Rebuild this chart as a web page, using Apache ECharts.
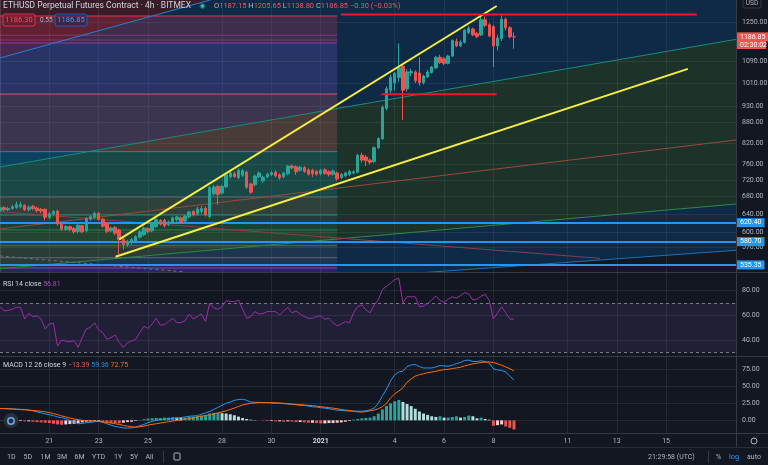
<!DOCTYPE html>
<html>
<head>
<meta charset="utf-8">
<script src="https://cdn.jsdelivr.net/npm/echarts@6/dist/echarts.min.js"></script>
<style>
html,body{margin:0;padding:0;background:#131722;overflow:hidden}
#chart{width:768px;height:465px}
</style>
</head>
<body>
<div id="chart"></div>
<script>
// ================= DATA =================
const open = [647,654,649,652,654,656,659,649,657,653, 650,650,632,640,646,617,606,612,608,602, 614,603,628,632,641,628,618,603,610,605, 585,575,579,581,590,595,608,603,612,625, 626,617,622,627,631,624,633,645,640,645, 652,634,686,704,688,703,728,736,726,732, 740,710,708,728,718,728,734,740,733,728, 736,756,754,745,752,746,745,742,736,746, 741,735,738,726,731,734,738,740,785,780, 772,768,806,832,925,985,1010,1030,1070,990, 1046,1050,1046,1012,1032,1048,1065,1105,1100,1082, 1110,1168,1150,1165,1205,1220,1200,1195,1260,1238, 1230,1150,1180,1262,1225,1187.15];
const close = [654,649,652,656,661,661,649,655,652,647, 646,632,640,645,618,607,612,606,601,615, 601,630,634,641,628,613,602,609,598,585, 575,581,585,591,601,609,602,619,627,618, 614,622,631,633,622,635,644,638,651,652, 638,701,703,685,704,733,738,729,745,744, 702,690,730,738,727,735,739,731,726,738, 756,751,741,753,742,735,736,735,745,737, 734,743,723,734,738,742,741,785,772,770, 766,806,832,928,990,1030,1045,1065,985,1050, 1052,1018,1012,1035,1050,1068,1105,1085,1082,1110, 1172,1150,1165,1215,1224,1195,1188,1260,1235,1190, 1150,1182,1262,1225,1187,1186.85];
const low = [643,645,646,649,651,652,646,645,648,643, 641,625,628,636,614,603,603,602,597,598, 598,600,625,629,625,610,598,600,594,555, 565,570,575,578,587,592,598,600,609,614, 610,613,619,623,618,621,630,634,636,640, 634,630,682,660,684,700,724,725,722,728, 698,686,704,725,712,724,730,727,721,724, 732,747,733,741,738,731,728,731,732,733, 729,731,718,722,727,730,734,737,765,756, 760,764,802,828,918,975,985,1015,888,980, 1035,1010,1000,1005,1028,1044,1060,1080,1075,1078, 1105,1145,1146,1160,1198,1190,1182,1190,1228,1185, 1068,1132,1170,1215,1180,1138.8];
const high = [658,657,656,660,668,668,662,659,660,656, 653,652,644,648,649,619,615,614,611,617, 616,633,637,645,644,631,621,612,613,608, 588,584,588,594,604,612,611,622,630,628, 629,625,634,636,634,638,647,648,656,658, 656,705,708,708,708,736,743,741,750,749, 744,714,734,742,731,739,743,745,737,741, 759,760,758,757,756,750,749,746,749,750, 745,747,742,738,741,746,745,789,792,786, 776,810,836,935,998,1040,1050,1160,1080,1060, 1062,1056,1105,1040,1058,1072,1110,1115,1106,1115, 1176,1180,1172,1220,1232,1226,1208,1275,1275,1245, 1238,1195,1280,1270,1232,1205.65];

const rsi = [67,63.5,64,65,66.5,66.5,57,61.5,59,59.5, 57,49,53,53.5,35,40,39,38.5,39.5,34, 42,49,50.3,54,48,46,40.5,42,44,38, 34,37.8,39,40.5,46,51,49.5,53,57.6,52, 52.5,54.9,57.6,54,54,55.5,61,57,59,61, 55,70,66,64.9,67,71.9,71.3,71,72.4,65, 57.6,58.9,63,61,61.5,63,63,63,60.3,63.5, 66.5,62,63.5,61,59,57.6,57.6,59,59.5,56.8, 57.6,54,51.4,53,54.9,53.8,62,67,68.5,64.3, 62,68.4,72.5,81,83.5,86,89,90,70.3,75, 75,75,67,67.5,69.5,72.5,75.5,72,70.5,73, 75,73.8,76,78.4,77.3,72.4,73,75.5,77,72, 57,62,67,62,57,56.81];

const macd = [17.5,17.3,17,16.8,16.5,16.2,16,15.2,14,12.5, 11,9.5,8.3,7,5,4,2.5,0,-2.5,-5, -4.5,-3.5,-3,-2,-1.5,-3,-5,-7,-9,-10, -11,-11.5,-11,-10,-8,-6,-3.5,-1.5,0,1, 1.5,2,3,3.5,4,5,6,6.5,7,9, 11,13,16,19,22,25,27,29.5,30.5,31, 29.5,27,26.5,26.5,26,26,25.5,25,25,24.5, 24,23.5,23,22,22,21,20,19.5,18.5,18, 17,16,15,14.5,14,13.5,13.5,13.5,13.5,14, 15.5,18,25,36,46,58,67,71,72.5,79, 81.5,82,79,77,77,77,78.5,80.5,80,79.5, 81,83.5,85,88,88.5,86.5,86.5,87.5,86.5,84, 76,74,73.5,71,65,59.36];
const signal = [17.5,17.3,17,16.7,16.3,15.8,15.4,15,14.5,14, 13.3,12.5,11.5,10,8.5,6.5,5,3.5,2,1, 0,-0.5,-1,-1.2,-1.5,-2,-3,-4,-5,-6, -7.5,-8.5,-9.5,-10,-9.5,-8.5,-7,-6,-5,-4, -3,-2,-1,0,0.5,1.5,2.5,3.5,5,6, 7,8,9.5,11,12.5,14,16,18,20.5,22.5, 24,25,25.5,26,26,26,26,25.8,25.5,25, 24.5,24,23.5,23,22.5,22,21.5,21,20,19.5, 18.5,18,17,16,15,14.5,13.5,12.5,12,13, 14,15,17,20,25,33,39,43,48,56, 61,65,67,68.5,70,71,72,73.5,74.5,75, 76,77,78,80,81.5,83,84,85,85.5,86, 85,83,81,78.5,76,72.75];
const hist = [0.5,0.3,0,-0.5,-1, -1,-1.5,-1.5,-2,-2.5,-3,-3.5,-4, -5,-6,-6.5,-6,-5.5,-5,-4, -3,-2,-1.5,-1,-1, -2,-3,-3.5,-4,-4.5,-3.5,-2.5, -2,-1,0.5,1.5, 2.5,3,3.5,3.5,4,4,4.5,4,3.5,4,5,5.5,6, 7,8,10,11,11,10.5,10,9,7.5,5.5, 3.5,2,1,0.5,0, -0.5,-1,-1,-1.5,-1.5,-2,-1.5,-2,-2.5, -2.5,-3,-3.5,-3.5,-4,-4.5,-4.5,-4,-4,-3.5,-3,-2, -1,1,2, 3,3.5,4,6,10,16,21,25,28,30, 27,24,21,17,13,10,8,6, 5,6,4,4,5,6,4,5,7,6,3,4,2,1, -8,-7,-6,-9,-11,-13.39];

const tickDays = ['2020-12-21','2020-12-23','2020-12-25','2020-12-28','2020-12-30','2021-01-01','2021-01-04','2021-01-06','2021-01-08','2021-01-11','2021-01-13','2021-01-15'];
const tickLabels = ['21','23','25','28','30','2021','4','6','8','11','13','15'];
const priceTicks = [1250,1090,1010,930,880,820,760,720,680,640,600,570];
const rsiTicks = [80,60,40];
const rsiBand = [70,30];
const macdTicks = [75,50,25,0];
const hLevels = [620.40, 580.70, 535.35];
const lastPrice = 1186.85;

// drawings (candle index, price)
const trendUpper = [[29.0,585.5],[120.8,1321.8]];
const trendLower = [[28.1,551],[167.3,1061.2]];
const resTop = [[82.9,1283],[169.5,1283]];
const resMid = [[92.8,971],[120.8,971]];
const fanTop = [[0,1102.4],[55.93,1376]];
const fanTeal = [[0,753.5],[179,1176.4]];
const fanBrown = [[0,606.9],[179,828]];
const fanGreen = [[0,528.4],[179,662.3]];
const fanLow = [[0,468.9],[179,563.4]];
const descLine = [[0,644.7],[145.9,547.8]];
const dashLine = [[0,552.4],[45,522.3]];
const fibX = [0,82];
const fibEdges = [1276.5,1161.7,972,795,678.6,637.3,605,572.5,535.35,522.3];
const fibLines = [1276.5,1193.6,1173.9,1161.7,972,795,678.6,637.3,605,572.5,549,529.6];

// ================= STYLE =================
const FONT = 'Roboto, "Noto Sans", sans-serif';
const AX = '#b2b5be';
const GRIDC = 'rgba(150,155,170,0.13)';
const fibBandColors = ['rgba(242,54,100,0.22)','rgba(140,90,230,0.2)','rgba(245,95,120,0.2)','rgba(0,188,212,0.17)','rgba(120,123,134,0.2)','rgba(8,153,129,0.15)','rgba(76,175,80,0.15)','rgba(120,123,134,0.15)','rgba(156,39,176,0.18)'];
const fibLineColors = ['#e0364f','rgba(171,71,188,0.5)','rgba(171,71,188,0.5)','#8e3aa8','#c9606a','#1e8fa0','#5d6a75','#2a8a80','#2e7d4a','#3b7d4a','#5d6a75','#7b4a9a'];
const fanZones = [
  {pts:[[0,1400],fanTop[0],fanTop[1],[fanTop[1][0],1400]], color:'rgba(242,54,69,0.17)'},
  {pts:[fanTop[0],fanTop[1],[fanTop[1][0],1400],[179,1400],fanTeal[1],fanTeal[0]], color:'rgba(0,120,220,0.2)'},
  {pts:[fanTeal[0],fanTeal[1],fanGreen[1],fanGreen[0]], color:'rgba(76,175,80,0.18)'},
  {pts:[fanGreen[0],fanGreen[1],fanLow[1],fanLow[0]], color:'rgba(0,120,220,0.2)'}
];

const categories = [];
const start = Date.UTC(2020, 11, 19);
for (let k = 0; k < 180; k++) categories.push(new Date(start + k*4*3600*1000).toISOString().slice(0,13));
const tickMap = {};
tickDays.forEach((d,k)=>{ tickMap[d+'T00'] = tickLabels[k]; });
const isTick = (idx, val) => tickMap[val] !== undefined;

function catAxis(gi, showLabel) {
  return {
    type:'category', gridIndex:gi, data:categories, boundaryGap:false,
    axisLine:{show:false}, axisTick:{show:false},
    axisLabel:{show:showLabel, interval:isTick, color:AX, fontSize:7, fontFamily:FONT, margin:5,
      formatter: v => tickMap[v] === '2021' ? '{b|2021}' : (tickMap[v] || ''),
      rich:{b:{fontWeight:'bold', color:'#d1d4dc', fontSize:7, fontFamily:FONT}}},
    splitLine:{show:true, interval:isTick, lineStyle:{color:GRIDC, width:1}}
  };
}
const hiddenY = {axisLine:{show:true, lineStyle:{color:'#363a45'}}, axisTick:{show:false}, axisLabel:{show:false}, splitLine:{show:false}};

function seg(name, pts, color, width, z, type) {
  return {type:'line', name, xAxisIndex:3, yAxisIndex:0, data:pts, showSymbol:false, symbol:'none', silent:true, clip:true, z,
    lineStyle:{color, width, type:type||'solid'}};
}
function tickLines(xi, yi, vals, extra) {
  return {type:'line', xAxisIndex:xi, yAxisIndex:yi, data:[], silent:true, clip:false,
    markLine:{symbol:['none','none'], silent:true, animation:false, z:3,
      lineStyle:{color:GRIDC, type:'solid', width:1},
      label:{position:'end', distance:6, color:AX, fontSize:7, fontFamily:FONT},
      data: vals.map(v => ({yAxis:v, label:{formatter:v.toFixed(2)}})).concat(extra || [])}};
}
function histColor(k){ const v=hist[k], p=k>0?hist[k-1]:v; if (v>=0) return v>=p?'#26a69a':'#b2dfdb'; return v<p?'#ef5350':'#ffcdd2'; }

const series = [
  {type:'custom', name:'fanZones', xAxisIndex:3, yAxisIndex:0, clip:true, silent:true, z:1,
   data: fanZones.map((zn,k)=>[k,1000]),
   renderItem:(params, api) => {
     const zn = fanZones[params.dataIndex];
     return {type:'polygon', shape:{points: zn.pts.map(p => api.coord(p))}, style:{fill: zn.color}};
   }},
  {type:'custom', name:'fibBands', xAxisIndex:3, yAxisIndex:0, clip:true, silent:true, z:2,
   data: fibEdges.slice(0,-1).map((e,k)=>[k,1000]),
   renderItem:(params, api) => {
     const k = params.dataIndex, a = fibEdges[k], b = fibEdges[k+1];
     const pts = [[fibX[0],a],[fibX[1],a],[fibX[1],b],[fibX[0],b]].map(p=>api.coord(p));
     return {type:'polygon', shape:{points:pts}, style:{fill: fibBandColors[k]}};
   }},
  {type:'custom', name:'fibLines', xAxisIndex:3, yAxisIndex:0, clip:true, silent:true, z:3,
   data: fibLines.map((v,k)=>[k,v]),
   renderItem:(params, api) => {
     const v = fibLines[params.dataIndex];
     const p1 = api.coord([fibX[0], v]), p2 = api.coord([fibX[1], v]);
     return {type:'line', shape:{x1:p1[0], y1:p1[1], x2:p2[0], y2:p2[1]}, style:{stroke: fibLineColors[params.dataIndex], lineWidth:1}};
   }},
  tickLines(3, 0, priceTicks),
  seg('fanTop', fanTop, '#2a7fd0', 1, 4),
  seg('fanTeal', fanTeal, '#15907a', 1, 4),
  seg('fanBrown', fanBrown, '#9a4a3c', 1, 4),
  seg('fanGreen', fanGreen, '#2a8c48', 1, 4),
  seg('fanLow', fanLow, '#1f6fb8', 1, 4),
  seg('desc', descLine, '#8e3c4c', 1, 4),
  seg('dash', dashLine, '#6f7380', 1, 4, [3,3]),
  {type:'line', xAxisIndex:3, yAxisIndex:0, data:[], silent:true, clip:false,
   markLine:{symbol:['none','none'], silent:true, z:5,
     lineStyle:{color:'#2196f3', width:2, type:'solid'},
     label:{position:'end', distance:1, color:'#ffffff', fontSize:7, fontFamily:FONT, backgroundColor:'#2196f3', padding:[1,3,1,3]},
     data: hLevels.map(v => ({yAxis:v, label:{formatter:v.toFixed(2)}}))}},
  {type:'candlestick', name:'ETHUSD', xAxisIndex:0, yAxisIndex:0, z:6, barWidth:3,
   data: open.map((o,k)=>[o, close[k], low[k], high[k]]),
   itemStyle:{color:'#26a69a', color0:'#ef5350', borderColor:'#26a69a', borderColor0:'#ef5350', borderWidth:1}},
  seg('trendUpper', trendUpper, '#f6f03c', 2, 7),
  seg('trendLower', trendLower, '#f6f03c', 2, 7),
  seg('resTop', resTop, '#f0142f', 2, 7),
  seg('resMid', resMid, '#f0142f', 2, 7),
  {type:'line', xAxisIndex:3, yAxisIndex:0, data:[], silent:true, clip:false,
   markLine:{symbol:['none','none'], silent:true, z:8,
     lineStyle:{color:'rgba(0,0,0,0)', width:0.1},
     label:{show:true, position:'end', distance:1, color:'#ffffff', fontSize:7, fontFamily:FONT, backgroundColor:'#f05350', padding:[1,3,1,3]},
     data:[{yAxis:lastPrice, label:{formatter:lastPrice.toFixed(2)}}]}},
  // RSI
  {type:'line', name:'RSI', xAxisIndex:1, yAxisIndex:1, data:rsi, showSymbol:false, symbol:'none', z:5,
   lineStyle:{color:'#9c2fa8', width:1},
   markArea:{silent:true, itemStyle:{color:'rgba(126,87,194,0.12)'}, data:[[{yAxis:rsiBand[0]},{yAxis:rsiBand[1]}]]}},
  tickLines(1, 1, rsiTicks, rsiBand.map(v => ({yAxis:v, label:{show:false}, lineStyle:{color:'#787b86', type:[3,3], width:1}}))),
  // MACD
  tickLines(2, 2, macdTicks),
  {type:'bar', name:'Histogram', xAxisIndex:2, yAxisIndex:2, barWidth:'72%', z:4,
   data: hist.map((v,k)=>({value:v, itemStyle:{color:histColor(k)}}))},
  {type:'line', name:'MACD', xAxisIndex:2, yAxisIndex:2, data:macd, showSymbol:false, symbol:'none', z:5, lineStyle:{color:'#2196f3', width:1}},
  {type:'line', name:'Signal', xAxisIndex:2, yAxisIndex:2, data:signal, showSymbol:false, symbol:'none', z:5, lineStyle:{color:'#ff6d00', width:1}}
];

function txt(x, y, text, fill, size, extra) {
  return Object.assign({type:'text', x, y, z:100, silent:true, style:{text, fill, fontSize:size||7, fontFamily:FONT, verticalAlign:'middle', textVerticalAlign:'middle'}}, extra||{});
}
function hline(y, x1, x2, c) { return {type:'line', z:90, silent:true, shape:{x1, y1:y, x2, y2:y}, style:{stroke:c||'#363a45', lineWidth:1}}; }

const graphic = [
  hline(272.5, 0, 768), hline(356.5, 0, 768), hline(433.5, 0, 768), hline(447.5, 0, 768, '#2a2e39'),
  {type:'line', z:90, silent:true, shape:{x1:736.5, y1:0, x2:736.5, y2:447}, style:{stroke:'#363a45', lineWidth:1}},
  txt(3, 6, 'ETHUSD Perpetual Futures Contract · 4h · BITMEX', '#d1d4dc', 8.5),
  {type:'circle', z:100, silent:true, shape:{cx:202.5, cy:6, r:3}, style:{fill:'rgba(38,166,154,0.35)'}},
  {type:'circle', z:101, silent:true, shape:{cx:202.5, cy:6, r:1.8}, style:{fill:'#26c6a4'}},
  {type:'text', x:214, y:6, z:100, silent:true, style:{text:'{l|O}{v|1187.15} {l|H}{v|1205.65} {l|L}{v|1138.80} {l|C}{v|1186.85} {v|−0.30 (−0.03%)}', verticalAlign:'middle', fontSize:7.5, fontFamily:FONT,
    rich:{l:{fill:'#b2b5be', color:'#b2b5be', fontSize:7.5, fontFamily:FONT}, v:{fill:'#f7525f', color:'#f7525f', fontSize:7.5, fontFamily:FONT}}}},
  {type:'rect', z:100, silent:true, shape:{x:3, y:14, width:32, height:12, r:2}, style:{fill:'rgba(110,20,40,0.45)', stroke:'#d8354d', lineWidth:1}},
  txt(19, 20.5, '1186.30', '#f7525f', 7.5, {style:{text:'1186.30', fill:'#f7525f', fontSize:7.5, fontFamily:FONT, align:'center', textAlign:'center', verticalAlign:'middle'}}),
  txt(40, 20.5, '0.55', '#b2b5be', 6.5),
  {type:'rect', z:100, silent:true, shape:{x:55, y:14, width:32, height:12, r:2}, style:{fill:'rgba(20,40,90,0.45)', stroke:'#2160b8', lineWidth:1}},
  txt(71, 20.5, '1186.85', '#4a9ff0', 7.5, {style:{text:'1186.85', fill:'#4a9ff0', fontSize:7.5, fontFamily:FONT, align:'center', textAlign:'center', verticalAlign:'middle'}}),
  {type:'rect', z:100, silent:true, shape:{x:743, y:-2, width:18, height:10, r:2}, style:{fill:'#131722', stroke:'#363a45', lineWidth:1}},
  txt(752, 3.5, 'USD', '#b2b5be', 6.5, {style:{text:'USD', fill:'#b2b5be', fontSize:6.5, fontFamily:FONT, align:'center', textAlign:'center', verticalAlign:'middle'}}),
  {type:'rect', z:100, silent:true, shape:{x:737, y:41, width:29, height:8}, style:{fill:'#f05350'}},
  txt(740, 45, '02:30:02', '#ffffff', 7),
  {type:'text', x:3, y:284, z:100, silent:true, style:{text:'{a|RSI 14 close} {b|56.81}', verticalAlign:'middle', fontSize:7, fontFamily:FONT,
    rich:{a:{fill:'#d1d4dc', color:'#d1d4dc', fontSize:7, fontFamily:FONT}, b:{fill:'#ab47bc', color:'#ab47bc', fontSize:7, fontFamily:FONT}}}},
  {type:'text', x:3, y:365, z:100, silent:true, style:{text:'{a|MACD 12 26 close 9} {r|−13.39} {b|59.36} {o|72.75}', verticalAlign:'middle', fontSize:7, fontFamily:FONT,
    rich:{a:{fill:'#d1d4dc', color:'#d1d4dc', fontSize:7, fontFamily:FONT}, r:{fill:'#ef5350', color:'#ef5350', fontSize:7, fontFamily:FONT}, b:{fill:'#2196f3', color:'#2196f3', fontSize:7, fontFamily:FONT}, o:{fill:'#ff6d00', color:'#ff6d00', fontSize:7, fontFamily:FONT}}}},
  {type:'circle', z:100, silent:true, shape:{cx:11, cy:420.5, r:7.5}, style:{fill:'#2a2e39'}},
  {type:'circle', z:101, silent:true, shape:{cx:11, cy:421, r:3.2}, style:{fill:'none', stroke:'#5fb0f0', lineWidth:1.5}},
  {type:'circle', z:100, silent:true, shape:{cx:754, cy:441, r:3}, style:{fill:'none', stroke:'#b2b5be', lineWidth:1}},
  txt(7, 457, '1D', '#b2b5be', 7), txt(23.5, 457, '5D', '#b2b5be', 7), txt(40.5, 457, '1M', '#b2b5be', 7),
  txt(57, 457, '3M', '#b2b5be', 7), txt(74.5, 457, '6M', '#b2b5be', 7), txt(92, 457, 'YTD', '#b2b5be', 7),
  txt(114, 457, '1Y', '#b2b5be', 7), txt(130, 457, '5Y', '#b2b5be', 7), txt(145.5, 457, 'All', '#b2b5be', 7),
  {type:'line', z:90, silent:true, shape:{x1:163.5, y1:451, x2:163.5, y2:463}, style:{stroke:'#363a45', lineWidth:1}},
  {type:'rect', z:100, silent:true, shape:{x:174, y:453, width:6, height:7, r:1}, style:{fill:'none', stroke:'#b2b5be', lineWidth:1}},
  txt(648, 457, '21:29:58 (UTC)', '#b2b5be', 7),
  {type:'line', z:90, silent:true, shape:{x1:708.5, y1:451, x2:708.5, y2:463}, style:{stroke:'#363a45', lineWidth:1}},
  txt(716, 457, '%', '#b2b5be', 7), txt(729, 457, 'log', '#2196f3', 7.5), txt(747, 457, 'auto', '#b2b5be', 7)
];

const option = {
  backgroundColor:'#131722',
  animation:false,
  grid:[
    {left:0, right:32, top:0, height:272},
    {left:0, right:32, top:273, height:83},
    {left:0, right:32, top:357, height:76}
  ],
  xAxis:[catAxis(0,false), catAxis(1,false), catAxis(2,true), {type:'value', gridIndex:0, min:0, max:179, show:false}],
  yAxis:[
    Object.assign({type:'log', gridIndex:0, min:522.3, max:1349.8, position:'right'}, hiddenY),
    Object.assign({type:'value', gridIndex:1, min:27, max:94.3, position:'right'}, hiddenY),
    Object.assign({type:'value', gridIndex:2, min:-18.6, max:93.1, position:'right'}, hiddenY)
  ],
  series,
  graphic
};
const chart = echarts.init(document.getElementById('chart'), null, {renderer:'canvas'});
chart.setOption(option);
</script>
</body>
</html>
